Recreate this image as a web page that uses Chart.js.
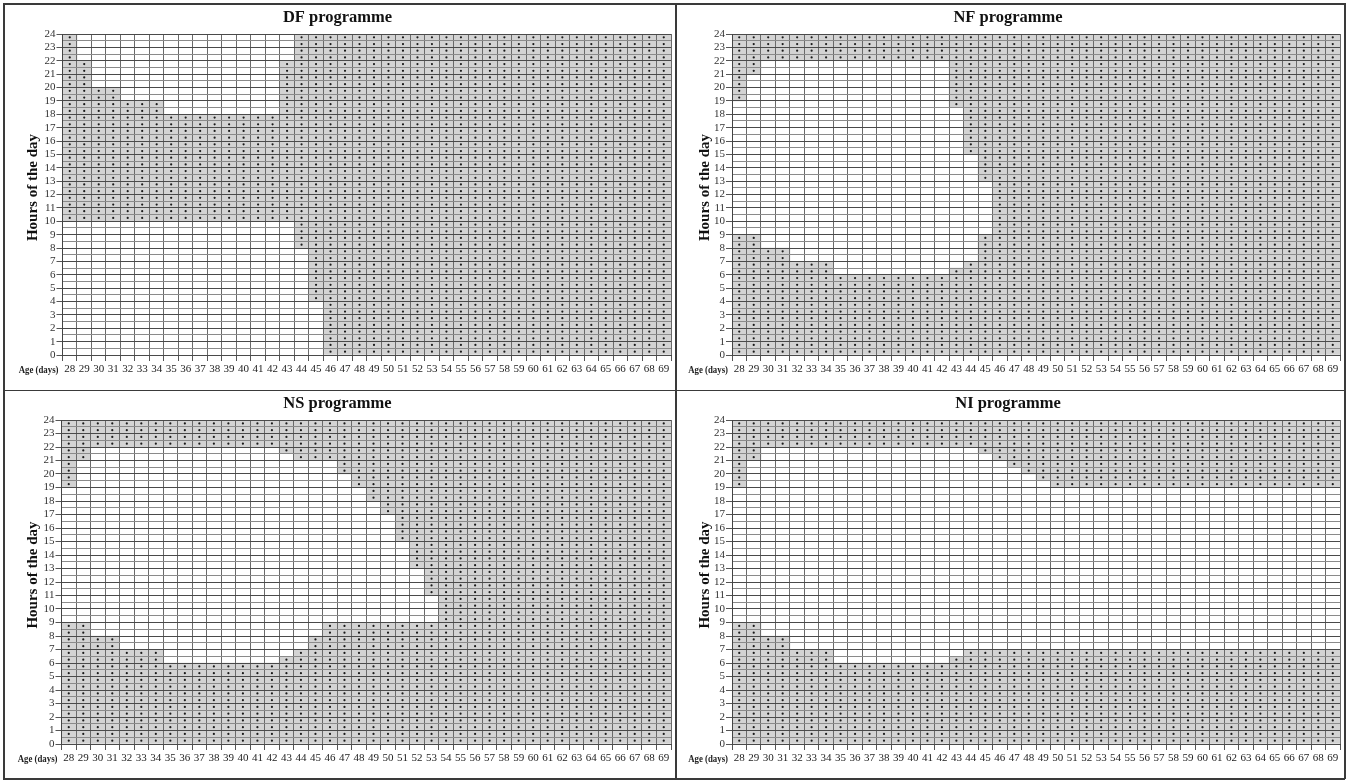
<!DOCTYPE html>
<html>
<head>
<meta charset="utf-8">
<script src="https://cdn.jsdelivr.net/npm/chart.js@4.4.0/dist/chart.umd.min.js"></script>
<style>
  html, body { margin: 0; padding: 0; background: #fff; }
  #fig { position: relative; width: 1348px; height: 781px; overflow: hidden; }
  .panel { position: absolute; }
  .panel canvas { display: block; }
  .rule { position: absolute; background: #3a3a3a; }
</style>
</head>
<body>
<div id="fig">
  <div class="panel" style="left:4px;top:4px;"><canvas id="c-df" width="672" height="386"></canvas></div>
  <div class="panel" style="left:676px;top:4px;"><canvas id="c-nf" width="669" height="386"></canvas></div>
  <div class="panel" style="left:4px;top:390px;"><canvas id="c-ns" width="672" height="388"></canvas></div>
  <div class="panel" style="left:676px;top:390px;"><canvas id="c-ni" width="669" height="388"></canvas></div>
  <div class="rule" style="left:3px;top:3px;width:1342px;height:1.5px;"></div>
  <div class="rule" style="left:3px;top:778px;width:1342px;height:1.5px;"></div>
  <div class="rule" style="left:3px;top:3px;width:1.5px;height:776px;"></div>
  <div class="rule" style="left:1344px;top:3px;width:1.5px;height:776px;"></div>
  <div class="rule" style="left:675px;top:3px;width:1.5px;height:776px;"></div>
  <div class="rule" style="left:3px;top:389.5px;width:1342px;height:1.5px;"></div>
</div>
<script>
// ages (days) on the x axis
const ages = ['28','29','30','31','32','33','34','35','36','37','38','39','40','41','42','43','44','45','46','47','48',
              '49','50','51','52','53','54','55','56','57','58','59','60','61','62','63','64','65','66','67','68','69'];

// DF programme: one shaded block per day, from -> to (hours)
const dfFrom = [10,10,10,10,10,10,10,10,10,10,10,10,10,10,10,10,8,4,0,0,0,
                0,0,0,0,0,0,0,0,0,0,0,0,0,0,0,0,0,0,0,0,0];
const dfTo   = [24,22,20,20,19,19,19,18,18,18,18,18,18,18,18,22,24,24,24,24,24,
                24,24,24,24,24,24,24,24,24,24,24,24,24,24,24,24,24,24,24,24,24];

// NF programme: early block 0 -> nfEarlyTo, late block nfLateFrom -> 24
const nfEarlyTo  = [9,9,8,8,7,7,7,6,6,6,6,6,6,6,6,6.5,7,9,24,24,24,
                    24,24,24,24,24,24,24,24,24,24,24,24,24,24,24,24,24,24,24,24,24];
const nfLateFrom = [19,21,22,22,22,22,22,22,22,22,22,22,22,22,22,18.5,15,13,null,null,null,
                    null,null,null,null,null,null,null,null,null,null,null,null,null,null,null,null,null,null,null,null,null];

// NS programme
const nsEarlyTo  = [9,9,8,8,7,7,7,6,6,6,6,6,6,6,6,6.5,7,8,9,9,9,
                    9,9,9,9,9,24,24,24,24,24,24,24,24,24,24,24,24,24,24,24,24];
const nsLateFrom = [19,21,22,22,22,22,22,22,22,22,22,22,22,22,22,21.5,21,21,21,20,19,
                    18,17,15,13,11,null,null,null,null,null,null,null,null,null,null,null,null,null,null,null,null];

// NI programme
const niEarlyTo  = [9,9,8,8,7,7,7,6,6,6,6,6,6,6,6,6.5,7,7,7,7,7,
                    7,7,7,7,7,7,7,7,7,7,7,7,7,7,7,7,7,7,7,7,7];
const niLateFrom = [19,21,22,22,22,22,22,22,22,22,22,22,22,22,22,22,22,21.5,21,20.5,20,
                    19.5,19,19,19,19,19,19,19,19,19,19,19,19,19,19,19,19,19,19,19,19];

const SERIF = '"Liberation Serif", "Times New Roman", Times, serif';
const FILL = '#d3d3d3';

// x caption sits left of the tick labels (narrow, like the original); y caption close to the ticks
const axisCaptions = {
  id: 'axisCaptions',
  afterDraw(chart) {
    const sx = chart.scales.x, sy = chart.scales.y;
    const ctx = chart.ctx;
    ctx.save();
    ctx.font = 'bold 11px ' + SERIF;
    ctx.fillStyle = '#222';
    ctx.textAlign = 'right';
    ctx.textBaseline = 'middle';
    ctx.translate(sx.left - 4, sx.top + 15);
    ctx.scale(0.8, 1);
    ctx.fillText('Age (days)', 0, 0);
    ctx.restore();

    ctx.save();
    ctx.font = 'bold 15px ' + SERIF;
    ctx.fillStyle = '#111';
    ctx.textAlign = 'center';
    ctx.textBaseline = 'middle';
    ctx.translate(29, (sy.top + sy.bottom) / 2 - 7);
    ctx.rotate(-Math.PI / 2);
    ctx.fillText('Hours of the day', 0, 0);
    ctx.restore();
  }
};

function blockData(from, to) {
  return ages.map((a, i) => (from[i] == null || to[i] == null) ? null : [from[i], to[i]]);
}

function makeChart(id, title, blocks, yWidth, xHeight) {
  const datasets = [];
  const dots = [];
  blocks.forEach(b => {
    datasets.push({
      type: 'bar',
      data: blockData(b.from, b.to),
      backgroundColor: FILL,
      borderWidth: 0,
      barPercentage: 1,
      categoryPercentage: 1,
      grouped: false,
      order: 2
    });
    ages.forEach((a, i) => {
      if (b.from[i] == null || b.to[i] == null) return;
      for (let h = b.from[i]; h < b.to[i]; h += 0.5) dots.push({ x: a, y: h + 0.25 });
    });
  });
  datasets.push({
    type: 'line',
    data: dots,
    showLine: false,
    pointRadius: 1.1,
    pointBorderWidth: 0,
    pointBackgroundColor: '#1a1a1a',
    order: 1
  });

  return new Chart(document.getElementById(id), {
    type: 'bar',
    data: { labels: ages, datasets },
    plugins: [axisCaptions],
    options: {
      responsive: false,
      animation: false,
      devicePixelRatio: 1,
      layout: { padding: { left: 0, right: 5, top: 0, bottom: 0 } },
      plugins: {
        legend: { display: false },
        tooltip: { enabled: false },
        title: {
          display: true,
          text: title,
          color: '#111',
          font: { family: SERIF, size: 16.5, weight: 'bold' },
          padding: { top: 4, bottom: 6.2 }
        }
      },
      scales: {
        x: {
          type: 'category',
          offset: true,
          grid: { offset: true, z: 1, color: '#6a6a6a', lineWidth: 1, tickLength: 6, tickColor: '#555' },
          border: { display: true, color: '#444', z: 1 },
          ticks: { font: { family: SERIF, size: 11 }, color: '#222', autoSkip: false, maxRotation: 0, padding: 2 },
          afterFit: s => { s.height = xHeight; }
        },
        y: {
          type: 'linear',
          min: 0,
          max: 24,
          grid: {
            z: 1,
            color: c => Number.isInteger(c.tick.value) ? '#4a4a4a' : '#8a8a8a',
            tickColor: c => Number.isInteger(c.tick.value) ? '#555' : 'rgba(0,0,0,0)',
            tickLength: 6
          },
          border: { display: true, color: '#444', z: 1 },
          ticks: {
            stepSize: 0.5,
            autoSkip: false,
            padding: 1,
            color: '#333',
            font: { family: SERIF, size: 11 },
            callback: v => Number.isInteger(v) ? String(v) : ''
          },
          afterFit: s => { s.width = yWidth; }
        }
      }
    }
  });
}

makeChart('c-df', 'DF programme', [{ from: dfFrom, to: dfTo }], 58.5, 35);
makeChart('c-nf', 'NF programme', [
  { from: ages.map(() => 0), to: nfEarlyTo },
  { from: nfLateFrom, to: ages.map(() => 24) }
], 56, 35);
makeChart('c-ns', 'NS programme', [
  { from: ages.map(() => 0), to: nsEarlyTo },
  { from: nsLateFrom, to: ages.map(() => 24) }
], 57.5, 34);
makeChart('c-ni', 'NI programme', [
  { from: ages.map(() => 0), to: niEarlyTo },
  { from: niLateFrom, to: ages.map(() => 24) }
], 56, 34);
</script>
</body>
</html>
